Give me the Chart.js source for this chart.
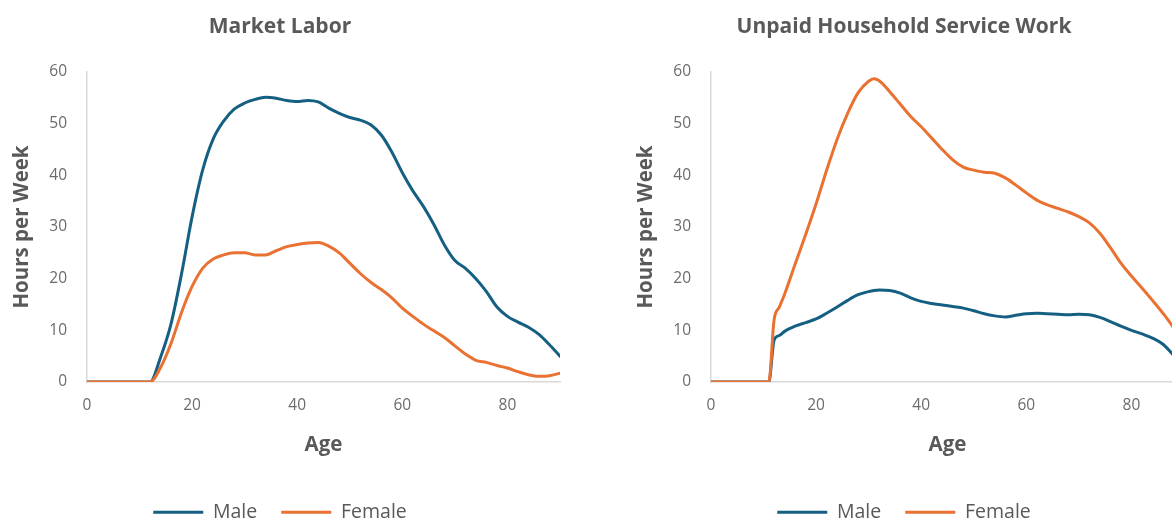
<!DOCTYPE html>
<html>
<head>
<meta charset="utf-8">
<script src="https://cdn.jsdelivr.net/npm/chart.js"></script>
<style>
  html, body { margin: 0; padding: 0; background: #fff; }
  body { width: 1172px; height: 525px; overflow: hidden; position: relative; }
  .panel { position: absolute; top: 0; width: 576px; height: 532px; }
</style>
</head>
<body>
<div class="panel" style="left:0"><canvas id="labor" width="576" height="532"></canvas></div>
<div class="panel" style="left:624px"><canvas id="household" width="576" height="532"></canvas></div>
<script>
// Market labor, hours per week by age
const laborAges = [0,2,4,6,8,10,12,14,16,18,20,22,24,26,28,30,32,34,36,38,40,42,44,46,48,50,52,54,56,58,60,62,64,66,68,70,72,74,76,78,80,82,84,86,88,90];
const laborMale = [0,0,0,0,0,0,0,4.8,11.3,21,32,41,47,50.5,52.8,54,54.7,55.1,54.9,54.5,54.3,54.5,54.2,53,52,51.2,50.7,49.8,47.8,44.5,40.5,37,34,30.5,26.5,23.5,22,20,17.5,14.5,12.7,11.6,10.6,9.2,7.2,5];
const laborFemale = [0,0,0,0,0,0,0,2.8,7.5,13.5,18.5,22,23.8,24.6,25,25,24.6,24.6,25.4,26.2,26.6,26.9,27,26.3,25,23,21,19.3,17.9,16.3,14.3,12.7,11.2,9.9,8.6,7,5.4,4.2,3.8,3.2,2.7,2,1.4,1.1,1.2,1.7];

// Unpaid household service work
const houseAges = [0,2,4,6,8,10,11,12,13,14,16,18,20,22,24,26,28,30,31,32,34,36,38,40,42,44,46,48,50,52,54,56,58,60,62,64,66,68,70,72,74,76,78,80,82,84,86,88,90];
const houseMale = [0,0,0,0,0,0,0,8.1,9,9.8,10.8,11.5,12.2,13.3,14.5,15.8,16.9,17.5,17.7,17.8,17.7,17.2,16.3,15.6,15.2,14.9,14.6,14.3,13.8,13.2,12.8,12.6,12.9,13.2,13.3,13.2,13.1,13,13.1,13,12.5,11.7,10.8,10,9.3,8.5,7.3,5.2,3];
const houseFemale = [0,0,0,0,0,0,0,12,14.5,17,22.8,28.5,34.5,41,47,52,56,58.2,58.7,58.3,56.2,53.8,51.4,49.4,47.2,45,43,41.6,41,40.6,40.4,39.5,38.1,36.6,35.2,34.3,33.6,32.9,32,30.8,28.8,26,23,20.5,18.2,15.8,13.3,10.5,7];

const seriesNames = ['Male', 'Female'];
const seriesColors = ['#156082', '#e97132'];
const ageTicks = [0, 20, 40, 60, 80];
const hourTicks = [0, 10, 20, 30, 40, 50, 60];

const FONT = "'Open Sans', 'Noto Sans', sans-serif";
const TITLE_GREY = '#595959';
const TICK_GREY = '#6b6b6b';
const AXIS_GREY = '#d9d9d9';

function toPoints(ages, values) {
    return ages.map((a, i) => ({ x: a, y: values[i] }));
}

function makeChart(id, title, ages, male, female) {
    const ctx = document.getElementById(id);
    const datasets = [male, female].map((vals, i) => ({
        label: seriesNames[i],
        data: toPoints(ages, vals),
        borderColor: seriesColors[i],
        backgroundColor: seriesColors[i],
        borderWidth: 3,
        pointRadius: 0,
        cubicInterpolationMode: 'monotone',
        borderCapStyle: 'round',
        borderJoinStyle: 'round',
        // female drawn on top, like the original
        order: i === 0 ? 1 : 0
    }));

    return new Chart(ctx, {
        type: 'line',
        data: { datasets },
        options: {
            responsive: false,
            animation: false,
            layout: { padding: { left: 0, right: 16, top: 0, bottom: 0 } },
            plugins: {
                title: {
                    display: true,
                    text: title,
                    color: TITLE_GREY,
                    font: { family: FONT, size: 21, weight: 'bold' },
                    padding: { top: 14.4, bottom: 32.4 }
                },
                legend: {
                    position: 'bottom',
                    labels: {
                        usePointStyle: true,
                        pointStyle: 'line',
                        pointStyleWidth: 50,
                        padding: 24,
                        color: TITLE_GREY,
                        font: { family: FONT, size: 19.5 },
                        sort: (a, b) => a.datasetIndex - b.datasetIndex
                    }
                },
                tooltip: { enabled: false }
            },
            scales: {
                x: {
                    type: 'linear',
                    min: 0,
                    max: 90,
                    afterBuildTicks: s => { s.ticks = ageTicks.map(v => ({ value: v })); },
                    ticks: {
                        color: TICK_GREY,
                        font: { family: FONT, size: 15.5 },
                        padding: 14
                    },
                    grid: { display: false, drawTicks: false },
                    border: { display: true, color: AXIS_GREY, width: 1.5 },
                    title: {
                        display: true,
                        text: 'Age',
                        color: TITLE_GREY,
                        font: { family: FONT, size: 20.5, weight: 'bold' },
                        padding: { top: 0, bottom: 21.2 }
                    },
                    afterFit: s => { s.height = 96.5; }
                },
                y: {
                    min: 0,
                    max: 60,
                    afterBuildTicks: s => { s.ticks = hourTicks.map(v => ({ value: v })); },
                    ticks: {
                        color: TICK_GREY,
                        font: { family: FONT, size: 15.5 },
                        padding: 20
                    },
                    grid: { display: false, drawTicks: false },
                    border: { display: true, color: AXIS_GREY, width: 1.5 },
                    title: {
                        display: true,
                        text: 'Hours per Week',
                        color: TITLE_GREY,
                        font: { family: FONT, size: 20.5, weight: 'bold' },
                        padding: { top: 9.7, bottom: 0 }
                    },
                    afterFit: s => { s.width = 87; }
                }
            }
        }
    });
}

makeChart('labor', 'Market Labor', laborAges, laborMale, laborFemale);
makeChart('household', 'Unpaid Household Service Work', houseAges, houseMale, houseFemale);
</script>
</body>
</html>
